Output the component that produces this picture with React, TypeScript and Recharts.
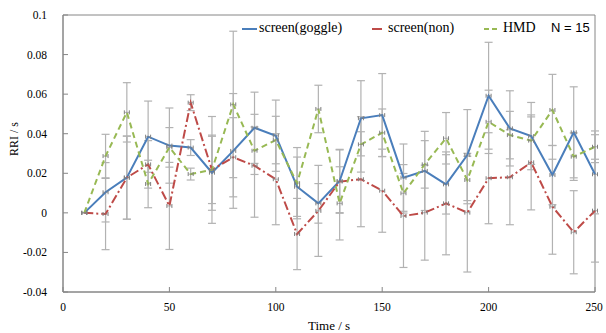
import { ComposedChart, Line, XAxis, YAxis, ErrorBar, Legend, ReferenceArea, Label } from 'recharts'

const times = [10, 20, 30, 40, 50, 60, 70, 80, 90, 100, 110, 120, 130, 140, 150, 160, 170, 180, 190, 200, 210, 220, 230, 240, 250]

const goggle = [0, 0.0104, 0.0178, 0.0385, 0.034, 0.033, 0.0203, 0.0313, 0.043, 0.039, 0.0132, 0.0048, 0.0161, 0.0478, 0.0494, 0.0178, 0.0212, 0.0144, 0.0292, 0.0592, 0.0427, 0.0388, 0.0191, 0.0407, 0.0195]
const goggleErr = [0, 0.015, 0.021, 0.018, 0.019, 0.004, 0.019, 0.029, 0.018, 0.018, 0.015, 0.01, 0.016, 0.019, 0.021, 0.017, 0.02, 0.015, 0.023, 0.027, 0.019, 0.017, 0.015, 0.023, 0.02]

const non = [0, -0.0006, 0.0178, 0.0245, 0.0035, 0.0557, 0.0217, 0.0281, 0.0238, 0.017, -0.0107, 0.001, 0.0158, 0.017, 0.0112, -0.0016, 0.0001, 0.0048, 0.0001, 0.0175, 0.018, 0.0255, 0.0031, -0.0098, 0.0011]
const nonErr = [0, 0.018, 0.021, 0.012, 0.022, 0.004, 0.027, 0.02, 0.026, 0.023, 0.018, 0.023, 0.016, 0.024, 0.021, 0.026, 0.024, 0.026, 0.03, 0.023, 0.024, 0.024, 0.024, 0.021, 0.026]

const hmd = [0, 0.0287, 0.0508, 0.0146, 0.0331, 0.0196, 0.0217, 0.0548, 0.0314, 0.0368, 0.015, 0.0525, 0.0048, 0.0346, 0.0405, 0.0099, 0.0245, 0.0377, 0.0166, 0.046, 0.0393, 0.0365, 0.052, 0.0284, 0.0334]
const hmdErr = [0, 0.011, 0.015, 0.012, 0.01, 0.003, 0.017, 0.037, 0.012, 0.012, 0.018, 0.012, 0.0185, 0.014, 0.012, 0.01, 0.012, 0.013, 0.012, 0.016, 0.012, 0.012, 0.018, 0.012, 0.008]

const xTicks = [0, 50, 100, 150, 200, 250]
const yTicks = [-0.04, -0.02, 0, 0.02, 0.04, 0.06, 0.08, 0.1]

const data = times.map((t, i) => ({
    time: t,
    goggle: goggle[i],
    goggleErr: goggleErr[i],
    non: non[i],
    nonErr: nonErr[i],
    hmd: hmd[i],
    hmdErr: hmdErr[i],
}))

const series = [
    { key: 'goggle', name: 'screen(goggle)', color: '#4a7ebb', dash: undefined },
    { key: 'non', name: 'screen(non)', color: '#be4b48', dash: '9 3 2 3' },
    { key: 'hmd', name: 'HMD', color: '#98b954', dash: '6 4' },
]

const SERIF = 'Liberation Serif, Times New Roman, serif'
const SANS = 'Liberation Sans, Arial, sans-serif'
const AXIS = '#868686'

function CapDot(props: any) {
    const { cx, cy } = props
    if (cx == null || cy == null) return null
    return (
        <g stroke="#808080" strokeWidth={1} fill="none">
            <line x1={cx - 2.5} x2={cx + 2.5} y1={cy} y2={cy} strokeOpacity={0.6} />
            <line x1={cx - 2.5} x2={cx - 2.5} y1={cy - 2} y2={cy + 2} />
            <line x1={cx + 2.5} x2={cx + 2.5} y1={cy - 2} y2={cy + 2} />
        </g>
    )
}

function XTick(props: any) {
    const { x, y, payload } = props
    return (
        <text x={x} y={y} dy="0.71em" textAnchor="middle" fill="#000" style={{ fontFamily: SERIF, fontSize: 11.5 }}>
            {payload.value}
        </text>
    )
}

function YTick(props: any) {
    const { x, y, payload } = props
    return (
        <text x={x} y={y} dy="0.35em" textAnchor="end" fill="#000" style={{ fontFamily: SERIF, fontSize: 11.5 }}>
            {String(Number(Number(payload.value).toFixed(2)))}
        </text>
    )
}

function LegendContent() {
    const row = 10
    return (
        <div style={{ position: 'relative', width: 606, height: 20, fontFamily: SERIF, fontSize: 14, color: '#000' }}>
            <svg width={606} height={20} style={{ position: 'absolute', left: 0, top: 0 }}>
                <line x1={242} x2={257} y1={row} y2={row} stroke={series[0].color} strokeWidth={2} />
                <line x1={372} x2={382} y1={row} y2={row} stroke={series[1].color} strokeWidth={2} />
                <line x1={484} x2={499} y1={row} y2={row} stroke={series[2].color} strokeWidth={2} strokeDasharray="5 3" />
            </svg>
            <span style={{ position: 'absolute', left: 259, top: 1, lineHeight: '16px' }}>{series[0].name}</span>
            <span style={{ position: 'absolute', left: 388, top: 1, lineHeight: '16px' }}>{series[1].name}</span>
            <span style={{ position: 'absolute', left: 503, top: 1, lineHeight: '16px' }}>{series[2].name}</span>
            <span style={{ position: 'absolute', left: 551, top: 1, lineHeight: '16px', fontFamily: SANS, fontSize: 13 }}>N = 15</span>
        </div>
    )
}

function YTitle(props: any) {
    const vb = props.viewBox || { x: 13 }
    const x = vb.x + 1
    const y = 139
    return (
        <text x={x} y={y} transform={`rotate(-90 ${x} ${y})`} textAnchor="middle" dominantBaseline="central" style={{ fontFamily: SERIF, fontSize: 12 }} fill="#000">
            RRI / s
        </text>
    )
}

export default function App() {
    return (
        <div style={{ position: 'absolute', left: 0, top: 0, width: 606, height: 333, background: '#fff', fontFamily: SERIF }}>
            <ComposedChart width={606} height={333} data={data} margin={{ top: 15, right: 11, bottom: 6, left: 13 }}>
                <XAxis
                    dataKey="time"
                    type="number"
                    domain={[0, 250]}
                    ticks={xTicks}
                    height={35}
                    stroke={AXIS}
                    tickSize={-5}
                    tickMargin={16}
                    tick={<XTick />}
                >
                    <Label value="Time / s" position="insideBottom" offset={-3} fill="#000" fontSize={13} style={{ fontFamily: SERIF }} />
                </XAxis>
                <YAxis
                    type="number"
                    domain={[-0.04, 0.1]}
                    ticks={yTicks}
                    width={50}
                    stroke={AXIS}
                    tickSize={-5}
                    tickMargin={21}
                    tick={<YTick />}
                    allowDataOverflow
                >
                    <Label content={YTitle} />
                </YAxis>
                <ReferenceArea x1={0} x2={250} y1={-0.04} y2={0.1} fill="none" stroke={AXIS} strokeWidth={1} />
                <Legend
                    layout="horizontal"
                    verticalAlign="middle"
                    align="center"
                    content={LegendContent}
                    wrapperStyle={{ position: 'absolute', left: 0, top: 19, width: 606, height: 20 }}
                />
                {series.map((s) => (
                    <Line
                        key={`err-${s.key}`}
                        dataKey={s.key}
                        stroke="none"
                        dot={false}
                        activeDot={false}
                        legendType="none"
                        isAnimationActive={false}
                    >
                        <ErrorBar dataKey={`${s.key}Err`} direction="y" width={4} stroke="#b2b2b2" strokeWidth={1.2} isAnimationActive={false} />
                    </Line>
                ))}
                {series.map((s) => (
                    <Line
                        key={s.key}
                        dataKey={s.key}
                        name={s.name}
                        type="linear"
                        stroke={s.color}
                        strokeWidth={2}
                        strokeDasharray={s.dash}
                        dot={<CapDot />}
                        activeDot={false}
                        isAnimationActive={false}
                    />
                ))}
            </ComposedChart>
        </div>
    )
}
